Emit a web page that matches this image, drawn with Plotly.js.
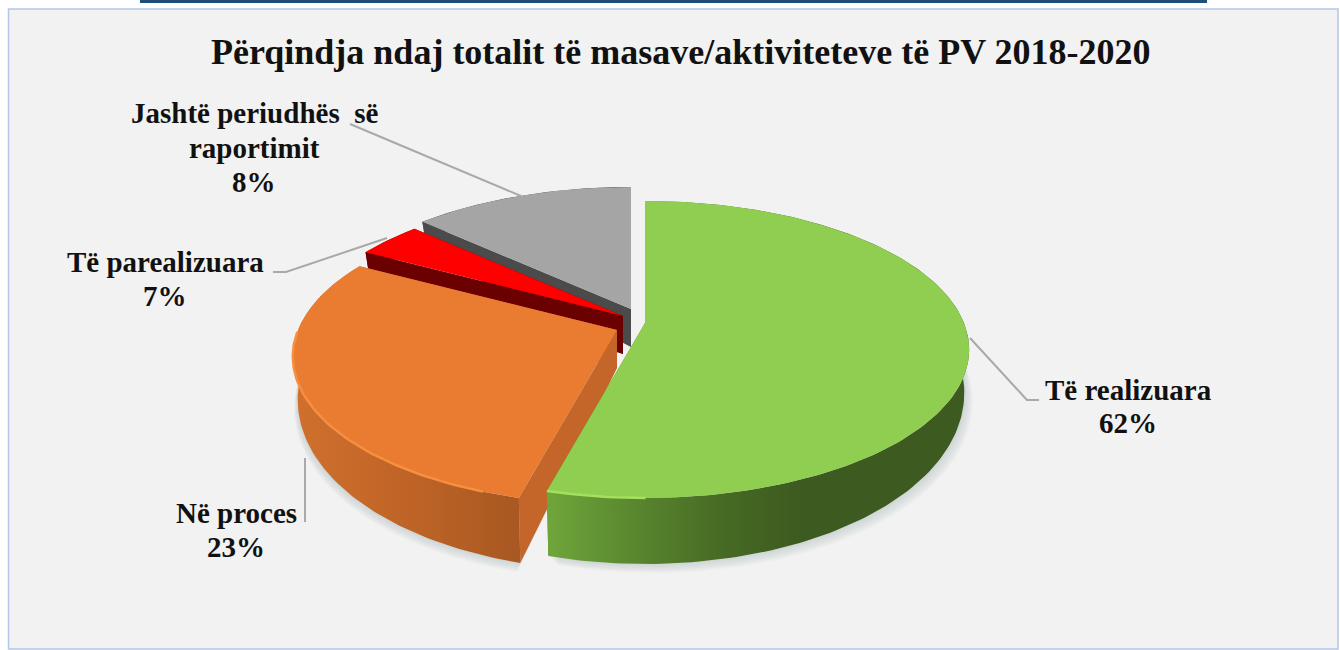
<!DOCTYPE html>
<html>
<head>
<meta charset="utf-8">
<script src="https://cdn.plot.ly/plotly-3.0.1.min.js"></script>
<style>html,body{margin:0;padding:0;background:#fff}#chart{width:1340px;height:650px}</style>
</head>
<body>
<div id="chart"></div>
<script>
// Data
var chartTitle = "Përqindja ndaj totalit të masave/aktiviteteve të PV 2018-2020";
var categoryLines = [["Të realizuara"], ["Në proces"], ["Të parealizuara"], ["Jashtë periudhës  së", "raportimit"]];
var labelPercents = [62, 23, 7, 8];           // printed on the labels
var drawnShares = [54.1, 28.9, 3.9, 13.1];    // slice sizes as they appear in the picture

// Styles and geometry
var topColors = ["#8fce50", "#e97c30", "#ff0000", "#a5a5a5"];
var cutColors = ["#5d8a2e", "#c4652a", "#6b0000", "#4b4b4b"];
var wallScales = [
  [[0, "#6fa63b"], [0.25, "#55802c"], [0.42, "#466a24"], [0.6, "#3d5a20"], [1, "#3d5a20"]],
  [[0, "#d0702c"], [0.5, "#bf6427"], [1, "#a85822"]],
  [[0, "#6b0000"], [1, "#6b0000"]],
  [[0, "#4b4b4b"], [1, "#4b4b4b"]]
];
var rimRuns = [[3.14, 3.40, "#a4e05e", 2.5], [3.5, 4.7, "#f68f40", 2.5]];
var pulls = [[0, 0], [-28, 7], [-22, -7], [-14, -14]];
var labelFirstLineY = [390, 513, 262, 113];
var labelLineGap = [33, 34, 34, 34.5];
var labelX = [1128, 236, 165, 254];
var leaderEnds = [[[970, 338], [1027, 400], [1039, 400]], [[305, 458], [305, 522]], [[387, 238], [286, 272], [273, 272]], [[350, 124], [521, 196]]];
var CX = 645, CY = 323, RX = 319, RY = 143.8, K = 0.178;
var shrink = 0.985;

function top3d(th, r, p) {
  var u = r * Math.sin(th), v = r * Math.cos(th), d = 1 + K * v;
  return [CX + p[0] + RX * u / d, CY + p[1] - RY * v / d];
}
function base3d(th, r, p) {
  var t = top3d(th, r, p), v = r * Math.cos(th);
  var c = CX + p[0];
  return [c + (t[0] - c) * shrink, t[1] + 38 - 28 * v];
}
function arc(fn, a, b, p) {
  var n = Math.max(6, Math.ceil(Math.abs(b - a) / 0.02)), out = [];
  for (var i = 0; i <= n; i++) out.push(fn(a + (b - a) * i / n, 1, p));
  return out;
}
function poly(points, color, extra) {
  var tr = {
    type: "scatter", mode: "lines", x: points.map(function (q) { return q[0]; }),
    y: points.map(function (q) { return q[1]; }), fill: "toself", fillcolor: color,
    line: { width: 0, color: color }, hoverinfo: "skip"
  };
  for (var k in extra) tr[k] = extra[k];
  return tr;
}
function line(points, color, width) {
  return {
    type: "scatter", mode: "lines", x: points.map(function (q) { return q[0]; }),
    y: points.map(function (q) { return q[1]; }), line: { color: color, width: width }, hoverinfo: "skip"
  };
}

var total = drawnShares.reduce(function (s, v) { return s + v; }, 0);
var bounds = [0], traces = [];
drawnShares.forEach(function (v, i) { bounds.push(bounds[i] + v / total * 2 * Math.PI); });

// soft shadow below the body of the pie
[0, 1].forEach(function (i) {
  for (var s = 1; s <= 6; s++) {
    var pts = arc(base3d, bounds[i], bounds[i + 1], pulls[i]);
    var sh = pts.map(function (q) { return [q[0] + s * (i === 0 ? 1.4 : -0.6), q[1] + s * 1.5]; });
    sh.push(base3d(0, 0, pulls[i]));
    traces.push(poly(sh, "rgba(90,100,110,0.035)"));
  }
});

// leader lines sit behind the pie
leaderEnds.forEach(function (l) { traces.push(line(l, "#a9a9a9", 2)); });

// draw back to front
[3, 2, 1, 0].forEach(function (i) {
  var a = bounds[i], b = bounds[i + 1], p = pulls[i];
  // cut faces
  [a, b].forEach(function (t) {
    traces.push(poly([top3d(t, 0, p), top3d(t, 1, p), base3d(t, 1, p), base3d(t, 0, p)], cutColors[i]));
  });
  // curved wall
  var wall = arc(top3d, a, b, p).concat(arc(base3d, b, a, p));
  traces.push(poly(wall, wallScales[i][0][1], { fillgradient: { type: "horizontal", colorscale: wallScales[i] } }));
  // top face
  var face = [top3d(a, 0, p)].concat(arc(top3d, a, b, p));
  traces.push(poly(face, topColors[i]));
  // lit rim
  if (i < 2) traces.push(line(arc(top3d, rimRuns[i][0], Math.min(rimRuns[i][1], b), p), rimRuns[i][2], rimRuns[i][3]));
});

var annotations = [{
  text: "<b>" + chartTitle + "</b>",
  x: 681, y: 52, xref: "x", yref: "y", showarrow: false, xanchor: "center", yanchor: "middle",
  font: { family: "Liberation Serif", size: 36, color: "#111111" }
}];
categoryLines.forEach(function (lines, i) {
  lines.concat([labelPercents[i] + "%"]).forEach(function (txt, j) {
    annotations.push({
      text: "<b>" + txt + "</b>",
      x: labelX[i], y: labelFirstLineY[i] + j * labelLineGap[i], xref: "x", yref: "y", showarrow: false,
      xanchor: "center", yanchor: "middle", align: "center",
      font: { family: "Liberation Serif", size: 29, color: "#111111" }
    });
  });
});

var layout = {
  width: 1340, height: 650, margin: { l: 0, r: 0, t: 0, b: 0 },
  paper_bgcolor: "#ffffff", plot_bgcolor: "rgba(0,0,0,0)", showlegend: false, hovermode: false,
  xaxis: { range: [0, 1340], visible: false, fixedrange: true },
  yaxis: { range: [650, 0], visible: false, fixedrange: true },
  shapes: [
    { type: "rect", xref: "x", yref: "y", x0: 8.5, y0: 9, x1: 1338, y1: 649, fillcolor: "#f2f2f2", line: { color: "#b4c7e7", width: 1.5 }, layer: "below" },
    { type: "rect", xref: "x", yref: "y", x0: 140, y0: 0, x1: 1207, y1: 3, fillcolor: "#1f4e79", line: { width: 0 }, layer: "below" }
  ],
  annotations: annotations
};
Plotly.newPlot("chart", traces, layout, { displayModeBar: false, staticPlot: true });
</script>
</body>
</html>
